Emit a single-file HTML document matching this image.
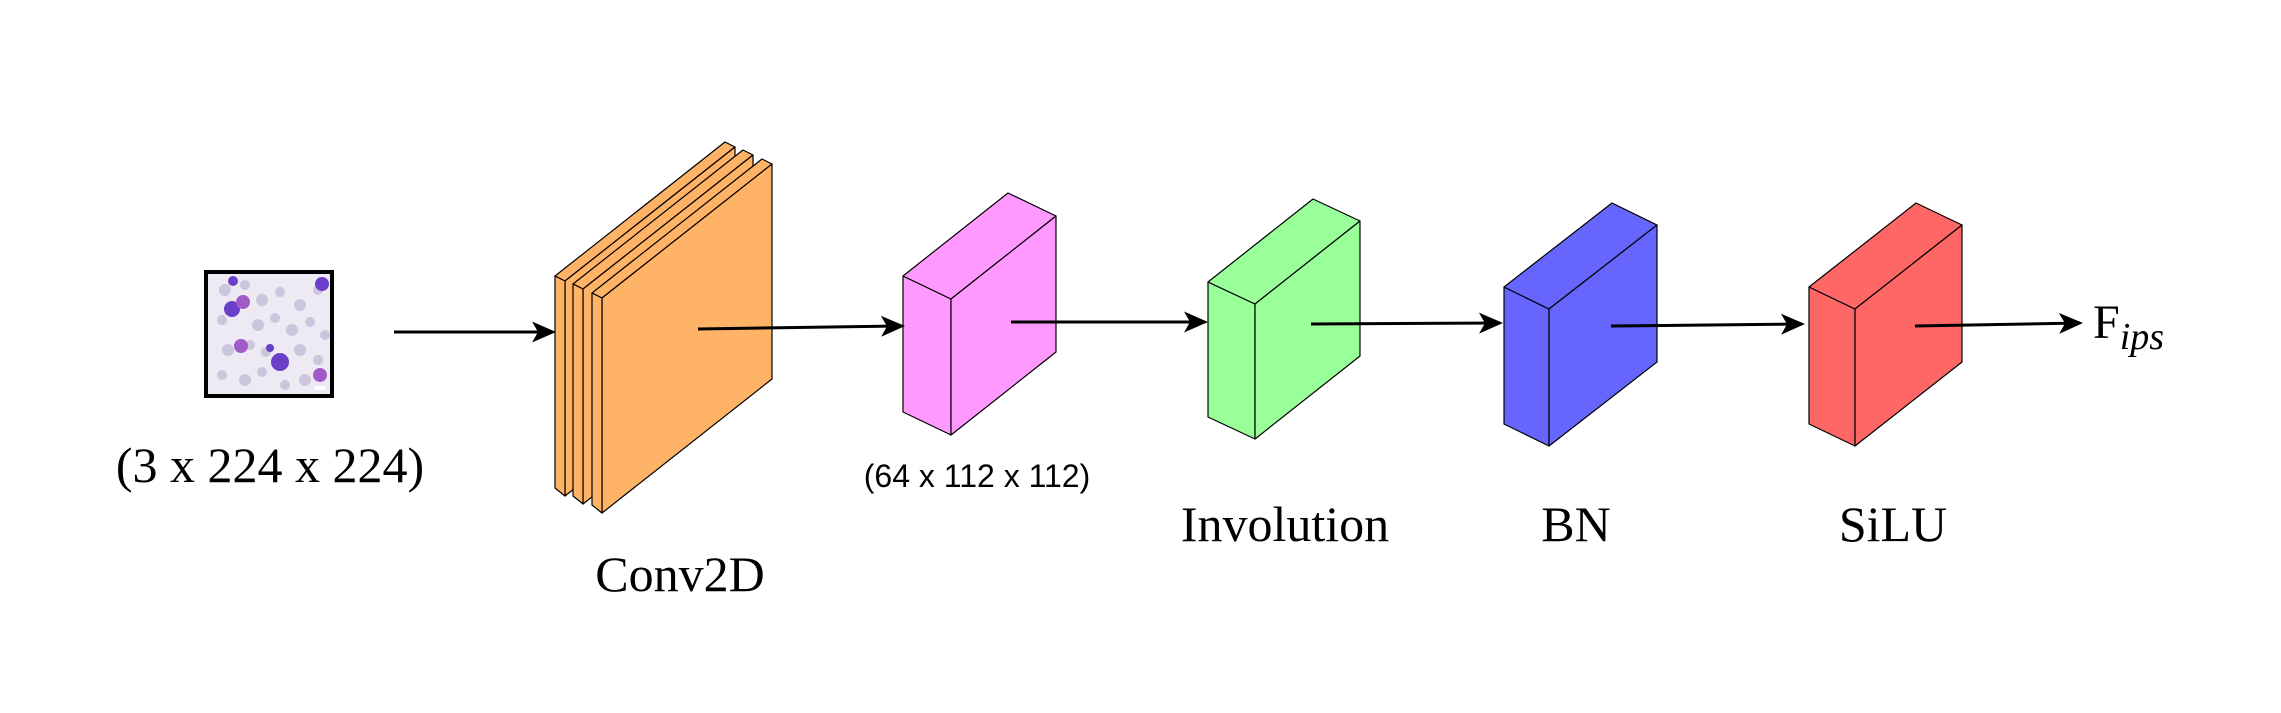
<!DOCTYPE html>
<html><head><meta charset="utf-8"><style>
html,body{margin:0;padding:0;background:#fff;}
svg{display:block;}
text{font-family:"Liberation Serif",serif;fill:#000;}
</style></head><body>
<svg width="2281" height="713" viewBox="0 0 2281 713" xmlns="http://www.w3.org/2000/svg">
<defs>
<marker id="ah" markerWidth="8" markerHeight="8" refX="7" refY="4" orient="auto" markerUnits="strokeWidth">
<path d="M0,0.5 L8,4 L0,7.5 L2,4 Z" fill="#000"/>
</marker>
</defs>

<g>
<rect x="206" y="272" width="126" height="124" fill="#eeeaf4" stroke="#000" stroke-width="4"/>
<g fill="#c9c2dc" opacity="0.9">
<circle cx="225" cy="290" r="6"/><circle cx="245" cy="285" r="5"/><circle cx="262" cy="300" r="6"/><circle cx="280" cy="292" r="5"/><circle cx="300" cy="305" r="6"/><circle cx="318" cy="290" r="5"/>
<circle cx="222" cy="320" r="5"/><circle cx="258" cy="325" r="6"/><circle cx="275" cy="318" r="5"/><circle cx="292" cy="330" r="6"/><circle cx="310" cy="322" r="5"/><circle cx="325" cy="335" r="5"/>
<circle cx="228" cy="350" r="6"/><circle cx="250" cy="345" r="5"/><circle cx="266" cy="352" r="5"/><circle cx="300" cy="350" r="6"/><circle cx="318" cy="360" r="5"/>
<circle cx="222" cy="375" r="5"/><circle cx="245" cy="380" r="6"/><circle cx="262" cy="372" r="5"/><circle cx="285" cy="385" r="5"/><circle cx="305" cy="380" r="6"/>
</g>
<g fill="#6a3fc9">
<circle cx="232" cy="309" r="8"/><circle cx="233" cy="281" r="5"/><circle cx="322" cy="284" r="7"/><circle cx="270" cy="348" r="4"/><circle cx="280" cy="362" r="9"/>
</g>
<g fill="#a25ac8">
<circle cx="243" cy="302" r="7"/><circle cx="241" cy="346" r="7"/><circle cx="320" cy="375" r="7"/>
</g>
<rect x="315" y="386" width="10" height="4" fill="#fff"/>
</g>
<text x="270" y="482" font-size="50" text-anchor="middle">(3 x 224 x 224)</text>

<line x1="394" y1="332" x2="553" y2="332" stroke="#000" stroke-width="3" marker-end="url(#ah)"/>

<g id="conv"></g>
<text x="680" y="591" font-size="50" text-anchor="middle">Conv2D</text>

<line x1="698" y1="329" x2="902" y2="326" stroke="#000" stroke-width="3" marker-end="url(#ah)"/>

<g id="boxes"></g>

<text x="977" y="487" font-size="32" text-anchor="middle" style="font-family:'Liberation Sans',sans-serif">(64 x 112 x 112)</text>

<line x1="1011" y1="322" x2="1205" y2="322" stroke="#000" stroke-width="3" marker-end="url(#ah)"/>
<line x1="1311" y1="324" x2="1500" y2="323" stroke="#000" stroke-width="3" marker-end="url(#ah)"/>
<line x1="1611" y1="326" x2="1802" y2="324" stroke="#000" stroke-width="3" marker-end="url(#ah)"/>
<line x1="1915" y1="326" x2="2080" y2="323" stroke="#000" stroke-width="3" marker-end="url(#ah)"/>

<text x="1285" y="541" font-size="50" text-anchor="middle">Involution</text>
<text x="1576" y="541" font-size="50" text-anchor="middle">BN</text>
<text x="1893" y="541" font-size="50" text-anchor="middle">SiLU</text>
<text x="2093" y="338" font-size="48">F<tspan font-style="italic" font-size="38" dy="11" style="font-family:'Liberation Serif',serif">ips</tspan></text>
</svg>
<script>
var NS='http://www.w3.org/2000/svg';
function poly(parent,pts,fill){
  var p=document.createElementNS(NS,'polygon');
  p.setAttribute('points',pts.map(function(a){return a.join(',');}).join(' '));
  p.setAttribute('fill',fill);p.setAttribute('stroke','#000');p.setAttribute('stroke-width','1.2');p.setAttribute('stroke-linejoin','round');
  parent.appendChild(p);return p;
}
var conv=document.getElementById('conv');
var slabs=[[555,276],[573,284],[592,293]];
slabs.forEach(function(s,i){
  var L=s[0],T=s[1],w=10,dy=5,H=215,dx=170,dd=-134;
  var g=document.createElementNS(NS,'g');
  
  
  poly(g,[[L,T],[L+w,T+dy],[L+w+dx,T+dy+dd],[L+dx,T+dd]],'#ffb366');
  poly(g,[[L+w,T+dy],[L+w+dx,T+dy+dd],[L+w+dx,T+dy+dd+H],[L+w,T+dy+H]],'#ffb366');
  poly(g,[[L,T],[L+w,T+dy],[L+w,T+dy+H],[L,T+H-3]],'#ffb366');
  conv.appendChild(g);
});
var boxes=document.getElementById('boxes');
var cub=[
 {n:'feature-map-block',x:903,y:276,w:48,s:23,dx:105,dy:-83,h:136,c:'#ff99ff'},
 {n:'involution-block',x:1208,y:282,w:47,s:22,dx:105,dy:-83,h:135,c:'#99ff99'},
 {n:'bn-block',x:1504,y:287,w:45,s:22,dx:108,dy:-84,h:137,c:'#6666ff'},
 {n:'silu-block',x:1809,y:287,w:46,s:22,dx:107,dy:-84,h:137,c:'#ff6666'}
];
cub.forEach(function(b){
  var g=document.createElementNS(NS,'g');
  
  
  var a=[b.x,b.y],c=[b.x+b.w,b.y+b.s];
  poly(g,[a,c,[c[0],c[1]+b.h],[a[0],a[1]+b.h]],b.c);
  poly(g,[a,[a[0]+b.dx,a[1]+b.dy],[c[0]+b.dx,c[1]+b.dy],c],b.c);
  poly(g,[c,[c[0]+b.dx,c[1]+b.dy],[c[0]+b.dx,c[1]+b.dy+b.h],[c[0],c[1]+b.h]],b.c);
  boxes.appendChild(g);
});
var svg=document.querySelector('svg');
Array.prototype.slice.call(svg.querySelectorAll('line')).forEach(function(l){svg.appendChild(l);});
</script>
</body></html>
